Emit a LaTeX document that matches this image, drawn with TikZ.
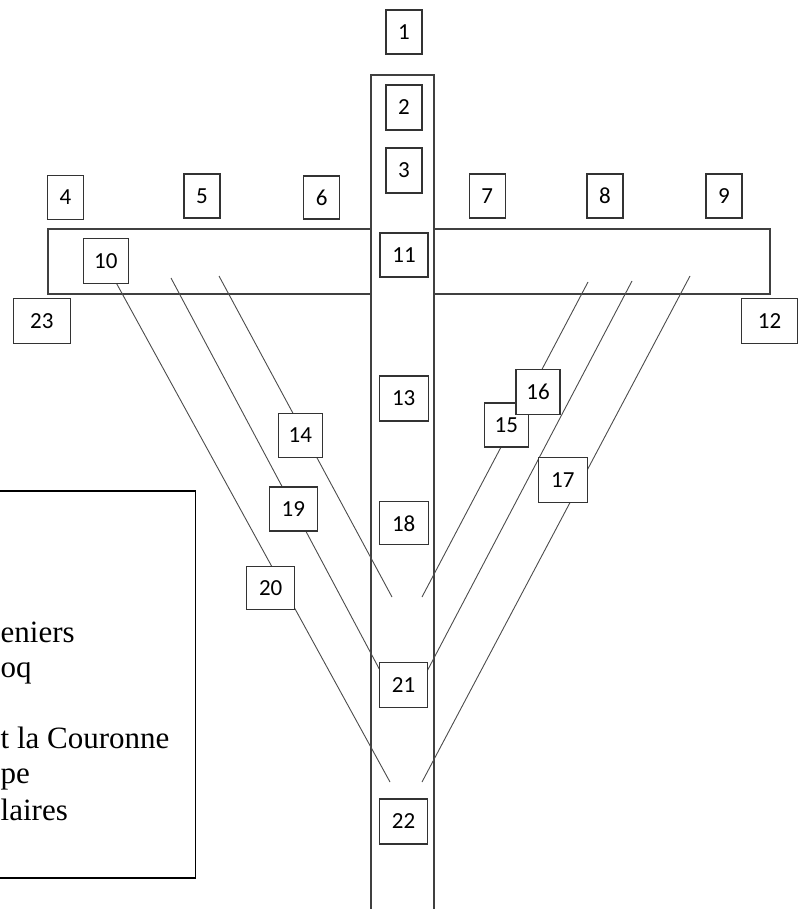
\documentclass[tikz,border=0pt]{standalone}
\usepackage{fontspec}
\setmainfont{Carlito}
\newfontfamily\legendfont{Liberation Serif}
\definecolor{framegray}{gray}{0.25}
\definecolor{boxgray}{gray}{0.2}
\definecolor{linegray}{gray}{0.3}

\begin{document}
\begin{tikzpicture}[x=1pt,y=-1pt]
\tikzstyle{every node}+=[inner sep=0pt]
\tikzstyle{numbox}=[draw=boxgray, line width=1.1pt, fill=white,
  minimum width=48pt, minimum height=45pt,
  font=\fontsize{23}{23}\selectfont]
\tikzstyle{smallbox}=[numbox, minimum width=36pt, minimum height=44pt]
\tikzstyle{legendline}=[anchor=base west,
  font=\legendfont\fontsize{31}{36}\selectfont]
\useasboundingbox (0,0) rectangle (806,909);
% beam and post
\draw [framegray, line width=1.2pt] (48,229) rectangle (770,294);
\draw [framegray, line width=1.2pt, fill=white] (371,75) rectangle (434,930);
% branch ends
\coordinate (s1) at (113,277);
\coordinate (e1) at (390,782);
\coordinate (s2) at (171,278);
\coordinate (e2) at (383,676);
\coordinate (s3) at (219,276);
\coordinate (e3) at (392,597);
\coordinate (s4) at (588,282);
\coordinate (e4) at (422,597);
\coordinate (s5) at (632,281);
\coordinate (e5) at (424,677);
\coordinate (s6) at (690,276);
\coordinate (e6) at (422,782);
\draw [linegray, line width=0.9pt] (s1) -- (e1);
\draw [linegray, line width=0.9pt] (s2) -- (e2);
\draw [linegray, line width=0.9pt] (s3) -- (e3);
\draw [linegray, line width=0.9pt] (s4) -- (e4);
\draw [linegray, line width=0.9pt] (s5) -- (e5);
\draw [linegray, line width=0.9pt] (s6) -- (e6);
% numbered boxes
\node [smallbox] (n1) at (404,32) {1};
\node [smallbox, minimum height=45pt] (n2) at (404,107.5) {2};
\node [smallbox, minimum height=45pt] (n3) at (404,170.5) {3};
\node [smallbox] (n4) at (65.5,197.5) {4};
\node [smallbox] (n5) at (202,196) {5};
\node [smallbox, minimum height=43pt] (n6) at (321.7,197.5) {6};
\node [smallbox] (n7) at (487.3,196) {7};
\node [smallbox] (n8) at (605,196) {8};
\node [smallbox] (n9) at (724,196) {9};
\node [numbox, minimum width=45pt] (n10) at (105.8,260.8) {10};
\node [numbox, minimum height=44pt] (n11) at (404,255) {11};
\node [numbox, minimum width=56pt] (n12) at (769.5,321) {12};
\node [numbox, minimum width=49pt] (n13) at (403.7,398.5) {13};
\node [numbox, minimum width=44pt, minimum height=44pt] (n14) at (300.3,435.5) {14};
\node [numbox, minimum width=44pt, minimum height=44pt] (n15) at (506.3,425) {15};
\node [numbox, minimum width=44pt] (n16) at (538,391.7) {16};
\node [numbox, minimum width=49pt] (n17) at (562.8,479.8) {17};
\node [numbox, minimum width=49pt, minimum height=43pt] (n18) at (403.7,523.3) {18};
\node [numbox, minimum height=44pt] (n19) at (293.3,509) {19};
\node [numbox, minimum height=43pt] (n20) at (270.7,587.7) {20};
\node [numbox] (n21) at (403.5,685.2) {21};
\node [numbox] (n22) at (403.5,821.5) {22};
\node [numbox, minimum width=57pt] (n23) at (41.8,321) {23};
% legend
\draw [black, line width=1.5pt] (-20,491) rectangle (195.5,878);
\node [legendline] (leg1) at (0.5,642) {eniers};
\node [legendline] (leg2) at (0.5,677) {oq};
\node [legendline] (leg3) at (0.5,748) {t la Couronne};
\node [legendline] (leg4) at (0.5,783) {pe};
\node [legendline] (leg5) at (0.5,820) {laires};
\end{tikzpicture}
\end{document}
